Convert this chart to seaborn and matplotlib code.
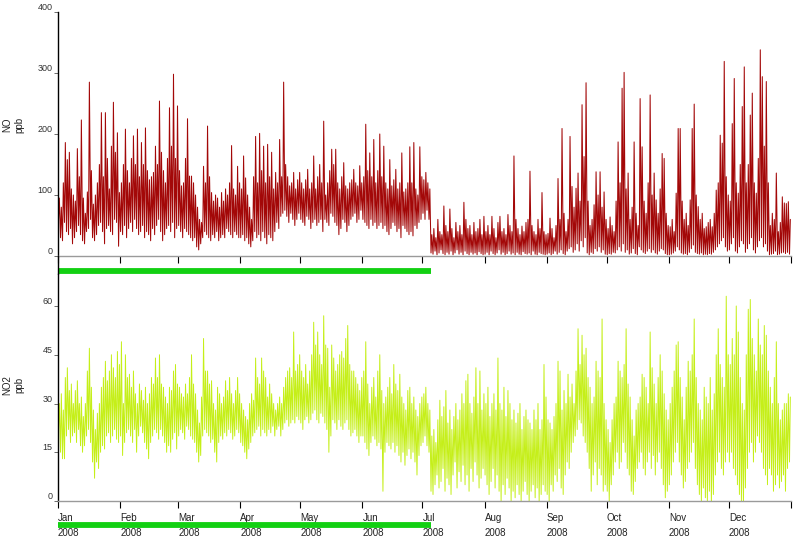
import numpy as np
import pandas as pd
import matplotlib
matplotlib.use("Agg")
import matplotlib.pyplot as plt
import matplotlib.dates as mdates
import matplotlib.transforms as mtrans
from matplotlib.lines import Line2D
import seaborn as sns

# ---------------- data (daily high / low envelope) ----------------
start_date = "2008-01-01"
end_date = "2009-01-01"

no_high = [
    95, 80, 120, 186, 158, 170, 110, 100, 90, 176, 130, 223, 95, 70, 105, 285, 140, 85, 100, 120, 150, 235, 130, 235, 160, 110, 180, 252, 170, 202, 104,
    120, 150, 208, 140, 120, 160, 197, 150, 208, 130, 186, 150, 210, 140, 125, 130, 137, 180, 150, 254, 170, 140, 120, 160, 243, 180, 298, 160, 246,
    140, 115, 120, 160, 225, 131, 131, 120, 100, 80, 60, 55, 147, 120, 213, 130, 104, 90, 100, 95, 80, 104, 90, 110, 100, 120, 181, 110, 100, 147, 120,
    110, 164, 128, 100, 80, 60, 130, 196, 120, 201, 140, 180, 120, 183, 130, 170, 110, 137, 120, 191, 130, 285, 150, 130, 115, 120, 137, 110, 125, 137,
    120, 110, 125, 142, 110, 120, 164, 110, 130, 150, 120, 221, 100, 120, 140, 175, 150, 175, 120, 110, 130, 153, 115, 110, 120, 125, 142, 120, 115, 148, 120,
    130, 216, 140, 169, 130, 191, 120, 140, 200, 130, 180, 120, 110, 158, 115, 125, 142, 110, 120, 169, 105, 110, 120, 179, 120, 186, 110, 100, 179, 130,
    125, 137, 120, 110, 35, 45, 30, 60, 40, 35, 82, 50, 40, 77, 45, 30, 55, 40, 50, 35, 88, 60, 45, 50, 35, 55, 40, 45, 60, 35, 65,
    40, 50, 35, 65, 45, 30, 55, 65, 40, 45, 35, 68, 50, 40, 164, 60, 45, 35, 49, 40, 55, 60, 139, 50, 40, 35, 60, 45, 104, 40, 35,
    37, 62, 45, 30, 50, 127, 60, 209, 70, 40, 60, 196, 114, 80, 111, 136, 90, 248, 163, 284, 90, 50, 60, 84, 138, 100, 138, 80, 105, 60,
    45, 64, 50, 40, 90, 187, 120, 275, 301, 110, 136, 60, 80, 187, 70, 50, 258, 179, 90, 70, 120, 264, 100, 136, 92, 70, 110, 168, 160, 70, 50,
    48, 60, 40, 103, 209, 209, 90, 60, 70, 50, 92, 209, 249, 100, 81, 60, 70, 45, 48, 55, 60, 48, 70, 108, 120, 198, 185, 319, 130, 100,
    90, 217, 291, 120, 103, 150, 245, 310, 120, 150, 231, 267, 120, 103, 160, 338, 294, 180, 286, 120, 50, 70, 60, 136, 40, 55, 97, 87, 86, 89, 60,
]
no_low = [
    60, 30, 25, 55, 40, 35, 45, 20, 30, 40, 50, 35, 25, 20, 40, 45, 60, 30, 25, 35, 50, 55, 40, 20, 45, 50, 40, 35, 60, 55, 16,
    40, 35, 50, 30, 45, 55, 40, 60, 45, 35, 40, 50, 30, 40, 35, 25, 45, 35, 50, 60, 40, 25, 35, 45, 50, 40, 55, 30, 45,
    50, 40, 30, 45, 40, 35, 30, 25, 30, 15, 10, 20, 30, 40, 35, 30, 25, 35, 30, 40, 25, 30, 35, 30, 45, 40, 35, 30, 40, 35, 30,
    30, 35, 25, 30, 20, 15, 25, 40, 30, 35, 25, 40, 30, 20, 35, 30, 25, 40, 55, 45, 65, 70, 75, 65, 55, 70, 60, 50, 60, 70,
    60, 55, 50, 65, 60, 45, 55, 60, 50, 55, 60, 40, 60, 55, 50, 70, 65, 55, 50, 35, 45, 60, 55, 40, 50, 60, 65, 70, 55, 60, 75,
    60, 55, 50, 45, 60, 50, 55, 45, 50, 55, 45, 50, 40, 35, 45, 55, 50, 40, 45, 30, 50, 45, 40, 35, 40, 33, 50, 45, 55, 60,
    70, 60, 75, 60, 5, 3, 8, 2, 5, 10, 4, 2, 6, 3, 8, 2, 5, 10, 3, 6, 2, 8, 4, 2, 6, 3, 5, 2, 7, 4, 2,
    3, 6, 2, 8, 4, 2, 5, 10, 3, 6, 2, 4, 8, 3, 5, 2, 6, 3, 2, 7, 4, 3, 5, 2, 8, 3, 2, 6, 4, 3, 2,
    3, 5, 2, 4, 8, 3, 6, 10, 4, 2, 8, 12, 15, 6, 10, 20, 8, 25, 15, 30, 5, 2, 6, 4, 12, 8, 15, 6, 10, 3,
    2, 4, 3, 6, 5, 10, 15, 8, 20, 6, 10, 3, 5, 12, 4, 2, 15, 10, 6, 4, 8, 12, 6, 10, 5, 3, 8, 12, 10, 4, 2,
    2, 3, 5, 8, 15, 10, 5, 3, 4, 2, 6, 12, 18, 6, 4, 3, 5, 2, 3, 2, 4, 3, 6, 10, 15, 20, 25, 30, 15, 8,
    10, 20, 30, 8, 5, 15, 25, 20, 6, 12, 20, 30, 10, 5, 15, 25, 30, 15, 20, 8, 2, 3, 4, 8, 2, 3, 5, 6, 4, 6, 3,
]
no2_high = [
    30, 33, 28, 38, 41, 34, 36, 30, 34, 37, 30, 32, 26, 30, 40, 47, 35, 28, 22, 27, 30, 35, 38, 43, 37, 40, 45, 41, 38, 46, 42,
    49, 30, 45, 38, 39, 35, 40, 33, 30, 36, 34, 31, 35, 30, 33, 38, 36, 44, 38, 45, 36, 35, 32, 30, 35, 34, 40, 42, 36,
    35, 33, 32, 36, 33, 38, 45, 36, 33, 28, 24, 32, 50, 40, 40, 36, 37, 30, 28, 35, 33, 30, 32, 37, 34, 38, 33, 30, 34, 38, 33,
    30, 28, 26, 25, 30, 33, 31, 44, 38, 36, 44, 40, 38, 32, 36, 33, 30, 28, 30, 32, 30, 35, 38, 40, 41, 38, 52, 40, 42, 45,
    40, 38, 42, 36, 40, 45, 55, 48, 52, 45, 42, 57, 48, 47, 35, 48, 44, 40, 42, 45, 46, 44, 50, 54, 42, 40, 40, 38, 36, 34, 38,
    40, 49, 36, 30, 35, 38, 32, 40, 45, 34, 30, 32, 35, 38, 33, 42, 36, 34, 39, 32, 30, 28, 34, 35, 30, 32, 28, 26, 30, 32,
    33, 35, 30, 28, 20, 22, 18, 25, 31, 26, 29, 34, 24, 28, 22, 26, 30, 25, 28, 33, 30, 37, 39, 30, 27, 32, 41, 30, 40, 28, 33,
    30, 35, 26, 30, 33, 28, 44, 30, 28, 35, 26, 34, 30, 25, 28, 24, 27, 30, 22, 26, 28, 25, 24, 22, 28, 25, 30, 22, 25, 42, 32,
    25, 24, 22, 26, 30, 43, 40, 28, 34, 30, 39, 32, 36, 30, 40, 53, 42, 51, 45, 47, 38, 35, 30, 32, 43, 40, 38, 56, 30, 25,
    22, 18, 25, 30, 32, 43, 40, 38, 42, 53, 36, 32, 25, 20, 28, 30, 32, 39, 38, 35, 30, 52, 41, 36, 30, 38, 45, 40, 33, 28, 25,
    30, 35, 40, 48, 49, 38, 32, 25, 35, 43, 40, 45, 56, 38, 30, 28, 25, 35, 32, 30, 38, 28, 33, 45, 53, 42, 38, 35, 63, 45,
    42, 50, 45, 60, 52, 38, 30, 28, 45, 59, 62, 50, 45, 40, 56, 48, 45, 54, 51, 40, 35, 30, 38, 49, 30, 25, 28, 30, 30, 33, 32,
]
no2_low = [
    22, 15, 13, 13, 20, 22, 18, 20, 21, 18, 22, 17, 15, 17, 20, 22, 18, 12, 7, 12, 10, 15, 17, 16, 20, 21, 18, 20, 22, 19, 18,
    20, 14, 18, 21, 22, 20, 18, 22, 15, 20, 23, 21, 18, 16, 13, 18, 20, 22, 21, 19, 22, 20, 18, 15, 17, 15, 19, 21, 16,
    20, 22, 21, 19, 23, 22, 20, 19, 18, 15, 12, 14, 20, 22, 21, 20, 18, 19, 15, 12, 18, 20, 19, 21, 20, 22, 21, 19, 20, 22, 21,
    18, 17, 15, 13, 16, 18, 20, 21, 22, 23, 20, 22, 21, 20, 22, 21, 23, 20, 22, 23, 20, 22, 24, 25, 23, 24, 25, 24, 26, 25,
    24, 22, 25, 26, 24, 25, 27, 28, 25, 24, 27, 26, 24, 22, 15, 20, 25, 24, 22, 25, 23, 22, 24, 25, 22, 20, 21, 22, 20, 18, 20,
    20, 18, 16, 14, 18, 20, 19, 17, 18, 16, 3, 15, 18, 17, 16, 18, 15, 17, 14, 12, 15, 11, 14, 16, 13, 15, 12, 8, 14, 17,
    18, 20, 17, 15, 3, 2, 5, 8, 4, 6, 10, 3, 7, 5, 2, 8, 12, 4, 9, 6, 11, 5, 8, 3, 10, 6, 12, 8, 4, 7, 10,
    8, 5, 2, 6, 10, 4, 8, 3, 0, 5, 2, 7, 4, 0, 3, 1, 5, 2, 0, 3, 6, 2, 0, 3, 5, 1, 4, 0, 2, 5, 3,
    2, 0, 5, 3, 8, 6, 10, 4, 2, 8, 12, 10, 15, 18, 20, 22, 25, 24, 20, 18, 15, 10, 3, 8, 12, 5, 10, 8, 3, 5,
    3, 0, 5, 8, 12, 15, 10, 12, 18, 15, 10, 8, 3, 2, 6, 10, 12, 15, 10, 8, 12, 15, 10, 14, 8, 12, 15, 10, 5, 1, 3,
    5, 8, 12, 15, 18, 12, 8, 4, 6, 10, 12, 15, 18, 10, 5, 2, 0, 4, 1, 0, 3, -1, 2, 8, 12, 15, 10, 8, 12, 15,
    12, 15, 10, 8, 5, 2, 0, -1, 4, 10, 15, 18, 12, 15, 20, 18, 15, 10, 8, 5, 10, 8, 3, 5, 8, 4, 6, 8, 3, 10, 12,
]

month_labels = ["Jan", "Feb", "Mar", "Apr", "May", "Jun", "Jul", "Aug", "Sep", "Oct", "Nov", "Dec"]
year_label = "2008"
no_ticks = [0, 100, 200, 300, 400]
no2_ticks = [0, 15, 30, 45, 60]
no_label = "NO\nppb"
no2_label = "NO2\nppb"
bar_start = "2008-01-01"
bar_end = "2008-07-05 04:00"


def to_frame(high, low):
    days = pd.date_range(start_date, periods=len(high), freq="D")
    t = np.concatenate([days + pd.Timedelta(hours=6), days + pd.Timedelta(hours=16)])
    v = np.concatenate([np.asarray(low, float), np.asarray(high, float)])
    return pd.DataFrame({"time": t, "value": v}).sort_values("time").reset_index(drop=True)


df_no = to_frame(no_high, no_low)
df_no2 = to_frame(no2_high, no2_low)

# ---------------- style ----------------
sns.set_theme(style="white")
plt.rcParams["font.family"] = ["Liberation Sans", "DejaVu Sans"]

W, H = 800, 548
fig = plt.figure(figsize=(W / 100, H / 100), dpi=100)
fig.patch.set_facecolor("white")

left_px, right_px = 58, 791
ax1 = fig.add_axes([left_px / W, (H - 256) / H, (right_px - left_px) / W, (256 - 12) / H])
ax2 = fig.add_axes([left_px / W, (H - 501) / H, (right_px - left_px) / W, (501 - 273.5) / H])

sns.lineplot(data=df_no, x="time", y="value", ax=ax1, color="#a30808",
             lw=0.75, estimator=None, sort=True)
sns.lineplot(data=df_no2, x="time", y="value", ax=ax2, color="#c5ef18",
             lw=0.7, estimator=None, sort=True)

month_starts = pd.date_range(start_date, end_date, freq="MS")
xl = (pd.Timestamp(start_date), pd.Timestamp(end_date))

for ax, ticks, top in ((ax1, no_ticks, 400), (ax2, no2_ticks, 70)):
    ax.set_xlim(*xl)
    ax.set_ylim(0, top)
    ax.set_xlabel("")
    ax.set_ylabel("")
    ax.set_facecolor("white")
    for s in ("top", "right"):
        ax.spines[s].set_visible(False)
    ax.spines["left"].set_color("black")
    ax.spines["left"].set_linewidth(1.0)
    ax.spines["bottom"].set_color("#9a9a9a")
    ax.spines["bottom"].set_linewidth(1.0)
    ax.set_xticks(month_starts)
    ax.set_yticks(ticks)
    ax.set_yticklabels([str(t) for t in ticks])
    ax.tick_params(axis="x", direction="out", length=5, width=0.8, color="black",
                   bottom=True, labelsize=7, labelcolor="#222222", pad=3.5)
    ax.tick_params(axis="y", direction="out", length=3, width=0.6, color="#555555",
                   left=True, labelsize=6.5, labelcolor="#333333", pad=1)
    for lab in ax.get_yticklabels():
        lab.set_va("bottom")

ax1.set_xticklabels([""] * len(month_starts))
ax2.set_xticklabels([f"{m}\n{year_label}" for m in month_labels] + [""])
for lab in ax2.get_xticklabels():
    lab.set_ha("left")
    lab.set_linespacing(1.6)

# green period bars
bx = [mdates.date2num(pd.Timestamp(bar_start)), mdates.date2num(pd.Timestamp(bar_end))]
for ax, yfrac in ((ax1, -14.5 / 244), (ax2, -23.5 / 227.5)):
    tr = mtrans.blended_transform_factory(ax.transData, ax.transAxes)
    ax.plot(bx, [yfrac, yfrac], transform=tr, color="#12d012", lw=4.2,
            solid_capstyle="butt", clip_on=False, zorder=5)

# continuous y-axis line between panels
fig.add_artist(Line2D([left_px / W, left_px / W], [(H - 273.5) / H, (H - 256) / H],
                      color="black", lw=1.0, transform=fig.transFigure))

fig.text(13 / W, 1 - 125 / H, no_label, rotation=90, ha="center", va="center",
         fontsize=7, color="#222222", linespacing=1.3)
fig.text(13 / W, 1 - 385 / H, no2_label, rotation=90, ha="center", va="center",
         fontsize=7, color="#222222", linespacing=1.3)

fig.savefig("out.png", dpi=100, facecolor="white")
